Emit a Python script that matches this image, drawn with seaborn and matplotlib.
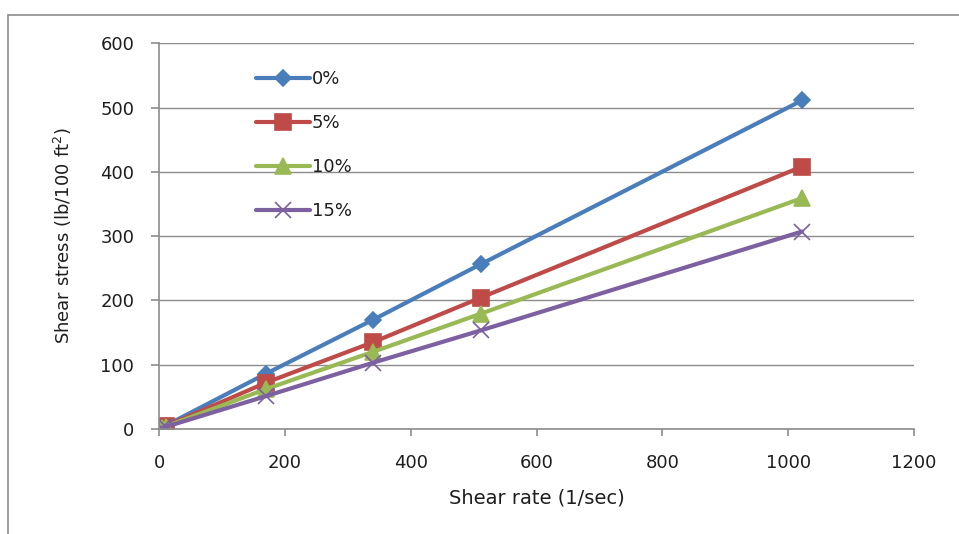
import matplotlib
matplotlib.use("Agg")
import matplotlib.pyplot as plt
import seaborn as sns
import pandas as pd
from matplotlib.patches import Rectangle
from matplotlib.lines import Line2D

shear_rate = [5.11, 10.22, 170.3, 340.6, 511, 1022]
series_names = ["0%", "5%", "10%", "15%"]
stress_0 = [3, 5, 86, 170, 256, 511]
stress_5 = [2.5, 4, 72, 135, 204, 408]
stress_10 = [2, 3.5, 62, 120, 179, 359]
stress_15 = [1.5, 3, 51, 103, 153, 307]
x_ticks = [0, 200, 400, 600, 800, 1000, 1200]
y_ticks = [0, 100, 200, 300, 400, 500, 600]

sns.set_theme(style="white")
plt.rcParams['font.family'] = ['DejaVu Sans']
txt = "#1e1e1e"

fig = plt.figure(figsize=(9.59, 5.34), dpi=100)
ax = fig.add_axes([0.166, 0.197, 0.787, 0.722])

palette = {"0%": "#4A7EBB", "5%": "#BE4B48", "10%": "#98B954", "15%": "#7D60A0"}
markers = {"0%": "D", "5%": "s", "10%": "^", "15%": "x"}
sizes = {"0%": 8, "5%": 11, "10%": 11, "15%": 11}

for name, vals in zip(series_names, [stress_0, stress_5, stress_10, stress_15]):
    d = pd.DataFrame({"rate": shear_rate, "stress": vals})
    sns.lineplot(data=d, x="rate", y="stress", color=palette[name], marker=markers[name],
                 markersize=sizes[name], markeredgecolor=palette[name], markeredgewidth=1.2,
                 lw=3, ax=ax)

ax.set_xlim(0, 1200)
ax.set_ylim(0, 600)
ax.set_xticks(x_ticks)
ax.set_yticks(y_ticks)
ax.yaxis.grid(True, color="#8c8c8c", lw=1)
ax.set_axisbelow(True)
for s in ["top", "right"]:
    ax.spines[s].set_visible(False)
for s in ["left", "bottom"]:
    ax.spines[s].set_color("#8c8c8c")
    ax.spines[s].set_linewidth(1.2)
ax.tick_params(axis="x", bottom=True, length=5, width=1.2, color="#8c8c8c",
               labelsize=13, pad=13, labelcolor=txt)
ax.tick_params(axis="y", left=True, length=6, width=1.2, color="#8c8c8c",
               labelsize=13, pad=12, labelcolor=txt)
ax.set_xlabel("Shear rate (1/sec)", fontsize=14, labelpad=12, color=txt)
ax.set_ylabel("Shear stress (lb/100 ft$^2$)", fontsize=13, labelpad=19, color=txt)

handles = [Line2D([0], [0], color=palette[n], lw=3, marker=markers[n],
                  markersize=sizes[n], markeredgecolor=palette[n], markeredgewidth=1.2)
           for n in series_names]
leg = ax.legend(handles, series_names, loc="upper left", bbox_to_anchor=(0.128, 0.931),
                frameon=False, fontsize=13, handlelength=3.0, handletextpad=0.1,
                labelspacing=1.44, borderaxespad=0, borderpad=0)
for t in leg.get_texts():
    t.set_color(txt)

fig.patches.append(Rectangle((0.008, -0.1), 1.2, 1.072, transform=fig.transFigure,
                             fill=False, edgecolor="#8c8c8c", lw=1.2))

fig.savefig("out.png", dpi=100)
